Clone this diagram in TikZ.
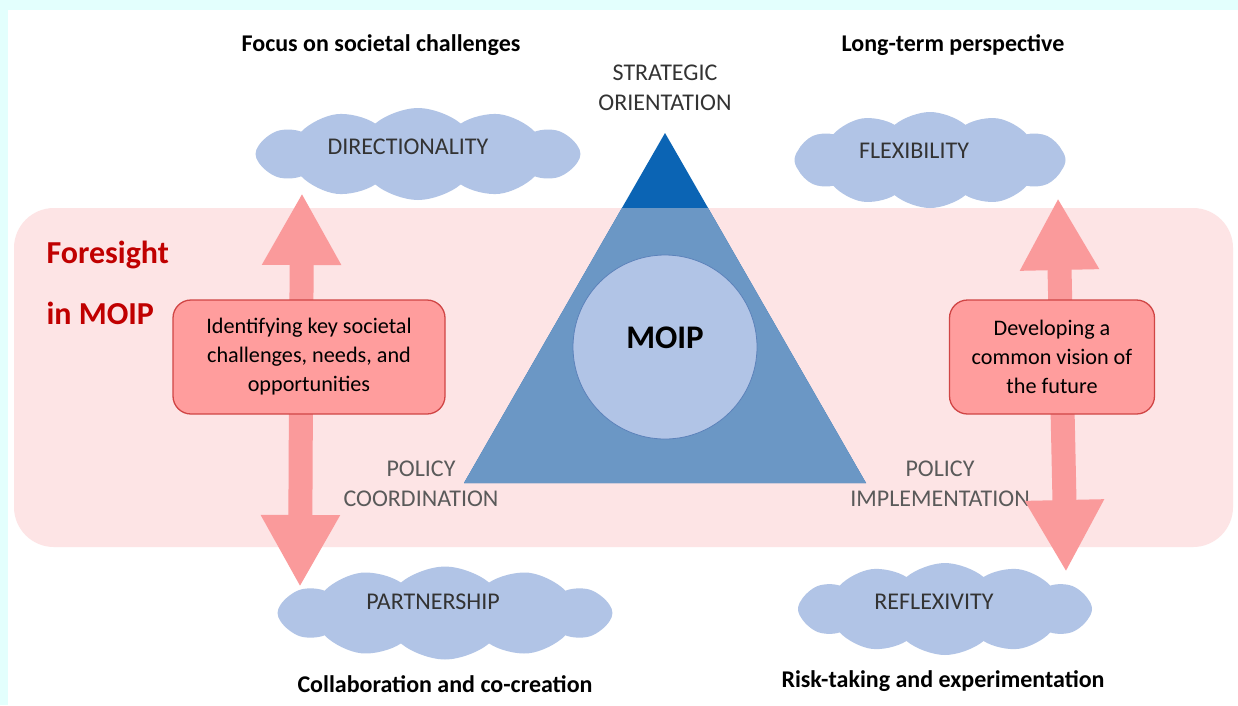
\documentclass[tikz,border=0pt]{standalone}
\usepackage{fontspec}
\setmainfont{Carlito}
\usetikzlibrary{shapes.symbols,arrows.meta}
\definecolor{bgcyan}{HTML}{E3FFFD}
\definecolor{bandpink}{HTML}{FDE4E5}
\definecolor{arrowpink}{HTML}{FA9A9B}
\definecolor{boxpink}{HTML}{FF9D9D}
\definecolor{boxborder}{HTML}{D04545}
\definecolor{darkblue}{HTML}{0B64B4}
\definecolor{midblue}{HTML}{6B97C5}
\definecolor{circblue}{HTML}{B1C4E6}
\definecolor{circborder}{HTML}{5C82BA}
\definecolor{cloudblue}{HTML}{B1C4E6}
\definecolor{foresightred}{HTML}{C00000}
\definecolor{graytext}{HTML}{5A5A5A}
\definecolor{darktext}{HTML}{333333}
\tikzset{
  x=1pt,y=-1pt,
  cloudshape/.style={cloud, cloud puffs=12, cloud puff arc=80, fill=cloudblue, draw=none, inner sep=0pt},
  cloudtext/.style={font=\fontsize{24}{28}\selectfont, text=darktext},
  toplabel/.style={font=\bfseries\fontsize{24}{28}\selectfont, text=black},
  axislabel/.style={font=\fontsize{24}{30.5}\selectfont, align=center},
  pinkbox/.style={draw=boxborder, line width=1.3pt, fill=boxpink, rounded corners=18pt, align=center, font=\fontsize{22.2}{29}\selectfont, inner sep=0pt},
  blockarrow/.style={line width=24pt, draw=arrowpink, {Triangle[length=72pt,width=74pt]}-{Triangle[length=72pt,width=74pt]}}
}
\begin{document}
\begin{tikzpicture}
\useasboundingbox (0,0) rectangle (1238,705);
\fill[bgcyan] (0,0) rectangle (1238,705);
\fill[white] (8,10) rectangle (1238,705);
% foresight band
\fill[bandpink, rounded corners=40pt] (14,208) rectangle (1233,547);
% top labels
\node[toplabel] (focus) at (381,45) {Focus on societal challenges};
\node[toplabel] (longterm) at (953,45) {Long-term perspective};
\node[axislabel, text=darktext] (strat) at (665,88) {STRATEGIC\\ORIENTATION};
% triangle
\coordinate (apex) at (665,133);
\coordinate (bl) at (464,483);
\coordinate (br) at (866,483);
\fill[darkblue] (apex) -- (bl) -- (br) -- cycle;
\begin{scope}
\clip (0,208) rectangle (1238,705);
\fill[midblue] (apex) -- (bl) -- (br) -- cycle;
\end{scope}
\node[circle, fill=circblue, draw=circborder, line width=0.8pt, minimum size=184pt, inner sep=0pt] (moipc) at (665,347) {};
\node[font=\bfseries\fontsize{33}{38}\selectfont, text=black] (moip) at (665,338) {MOIP};
% corner labels
\node[axislabel, text=graytext] (coord) at (421,484) {POLICY\\COORDINATION};
\node[axislabel, text=graytext] (impl) at (940,484) {POLICY\\IMPLEMENTATION};
% foresight
\node[font=\bfseries\fontsize{32}{38}\selectfont, text=foresightred, anchor=west] (fs1) at (43,255) {Foresight};
\node[font=\bfseries\fontsize{32}{38}\selectfont, text=foresightred, anchor=west] (fs2) at (43,313) {in MOIP};
% clouds
\node[cloudshape, aspect=3.6, minimum width=325pt, minimum height=92pt] (dirc) at (418,154) {};
\node[cloudshape, aspect=2.9, minimum width=271pt, minimum height=96pt] (flexc) at (930,160) {};
\node[cloudshape, aspect=3.6, minimum width=335pt, minimum height=93pt] (partc) at (445,613) {};
\node[cloudshape, aspect=3.2, minimum width=294pt, minimum height=92pt] (reflc) at (945,609) {};
\node[cloudtext] (dirt) at (408,147) {DIRECTIONALITY};
\node[cloudtext] (flext) at (914,151) {FLEXIBILITY};
\node[cloudtext] (partt) at (433,602) {PARTNERSHIP};
\node[cloudtext] (reflt) at (934,602) {REFLEXIVITY};
% arrows
\coordinate (la1) at (302,193);
\coordinate (la2) at (300,587);
\coordinate (ra1) at (1058,198);
\coordinate (ra2) at (1066,572);
\draw[blockarrow] (la1) -- (la2);
\draw[blockarrow] (ra1) -- (ra2);
% boxes
\node[pinkbox, minimum width=272pt, minimum height=114pt] (lbox) at (309,357) {Identifying key societal\\challenges, needs, and\\opportunities};
\node[pinkbox, minimum width=205pt, minimum height=114pt] (rbox) at (1052,357) {Developing a\\common vision of\\the future};
% bottom labels
\node[toplabel] (collab) at (445,684) {Collaboration and co-creation};
\node[toplabel] (risk) at (943,681) {Risk-taking and experimentation};
\end{tikzpicture}
\end{document}
